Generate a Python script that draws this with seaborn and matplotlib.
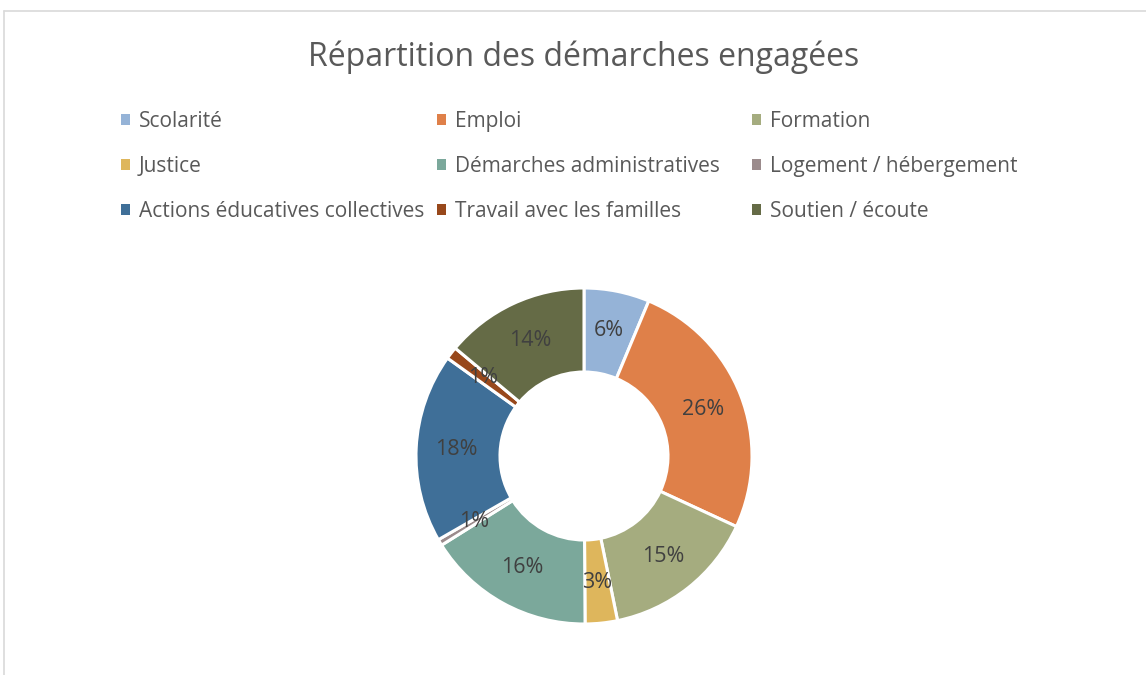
import matplotlib
matplotlib.use("Agg")
import matplotlib.pyplot as plt
from matplotlib.lines import Line2D
from matplotlib.patches import Patch
import seaborn as sns

categories = ["Scolarité", "Emploi", "Formation", "Justice", "Démarches administratives",
              "Logement / hébergement", "Actions éducatives collectives",
              "Travail avec les familles", "Soutien / écoute"]
values = [6.3, 25.6, 14.9, 3.1, 16.2, 0.6, 18.2, 1.2, 13.9]
colors = ["#95B3D7", "#DF8049", "#A5AC7F", "#DEB65C", "#7BA89B",
          "#9B8B8C", "#3F6F98", "#98481B", "#656B46"]

sns.set_theme(style="white")
plt.rcParams["font.family"] = ["Open Sans", "DejaVu Sans"]
palette = sns.color_palette(colors)

fig = plt.figure(figsize=(11.46, 6.75), dpi=100)

# chart frame
fig.add_artist(Line2D([4 / 1146, 4 / 1146], [0, 1 - 11 / 675], color="#D9D9D9", lw=1.2))
fig.add_artist(Line2D([4 / 1146, 1], [1 - 11 / 675, 1 - 11 / 675], color="#D9D9D9", lw=1.2))

# donut
r_px = 168
cx, cy = 584, 456
half = 1.2 * r_px
ax = fig.add_axes([(cx - half) / 1146, (675 - cy - half) / 675, 2 * half / 1146, 2 * half / 675])
wedges, _, autotexts = ax.pie(values, colors=palette, startangle=90, counterclock=False,
                              autopct="%.0f%%", pctdistance=0.76,
                              wedgeprops=dict(width=0.5, edgecolor="white", linewidth=2.2),
                              textprops=dict(color="#404040", fontsize=15.5))
ax.set_xlim(-1.2, 1.2)
ax.set_ylim(-1.2, 1.2)
ax.set_aspect("equal")
ax.axis("off")

fig.text(cx / 1146, 1 - 57 / 675, "Répartition des démarches engagées",
         ha="center", va="center", fontsize=23, color="#595959")

# legend, three columns of three
col_x = [121, 437, 752]
for c in range(3):
    idx = [c, c + 3, c + 6]
    handles = [Patch(facecolor=colors[i], edgecolor="none") for i in idx]
    fig.legend(handles, [categories[i] for i in idx],
               loc="upper left", bbox_to_anchor=(col_x[c] / 1146, 1 - 111 / 675),
               frameon=False, fontsize=15, labelcolor="#595959",
               handlelength=0.45, handleheight=0.45, handletextpad=0.4,
               labelspacing=1.15, borderpad=0, borderaxespad=0)

fig.savefig("out.png", dpi=100)
